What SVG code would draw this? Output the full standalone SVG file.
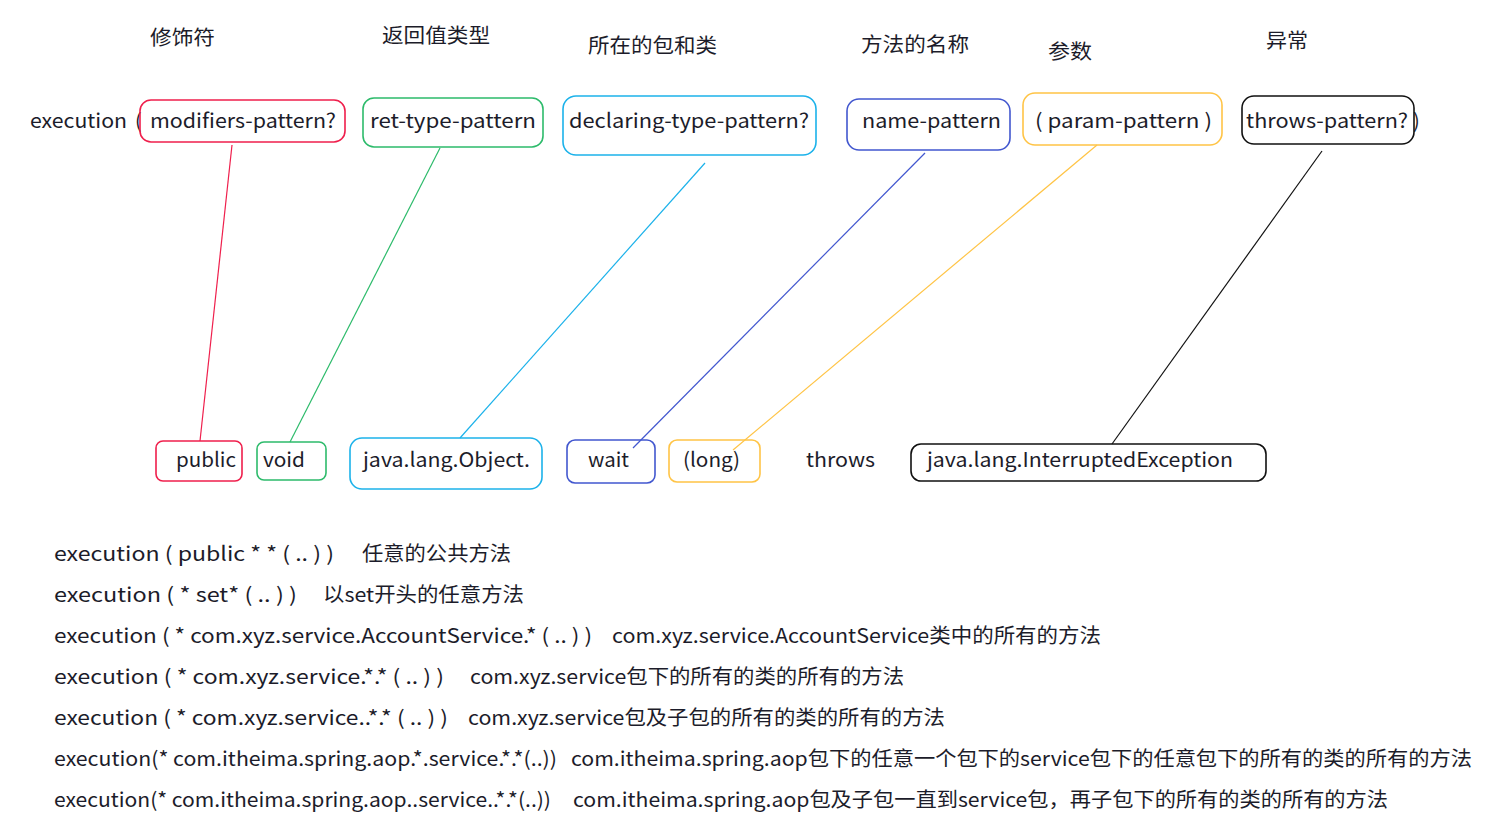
<svg xmlns="http://www.w3.org/2000/svg" width="1489" height="829" viewBox="0 0 1489 829">
<style>
text{font-family:"Noto Sans CJK SC","Noto Sans",sans-serif;font-size:20px;fill:#1c1c2a}
.b{fill:none;stroke-width:1.6}
.red{stroke:#ef1f4c}.grn{stroke:#2dbb6b}.cyn{stroke:#1cb2ea}.blu{stroke:#4257cf}.yel{stroke:#ffc446}.blk{stroke:#111}
.c{fill:none;stroke-width:1.2}
</style>
<rect width="1489" height="829" fill="#fff"/>
<g id="labels">
<text x="150" y="45" textLength="65" lengthAdjust="spacingAndGlyphs">修饰符</text>
<text x="382" y="43" textLength="108" lengthAdjust="spacingAndGlyphs">返回值类型</text>
<text x="588" y="53" textLength="129" lengthAdjust="spacingAndGlyphs">所在的包和类</text>
<text x="861" y="52" textLength="108" lengthAdjust="spacingAndGlyphs">方法的名称</text>
<text x="1048" y="59" textLength="44" lengthAdjust="spacingAndGlyphs">参数</text>
<text x="1266" y="48" textLength="42" lengthAdjust="spacingAndGlyphs">异常</text>
</g>
<g id="exec">
<text x="30" y="128" textLength="97" lengthAdjust="spacingAndGlyphs">execution</text>
<text x="135" y="128">(</text>
<text x="1413" y="128">)</text>
</g>
<g id="modifiers"><rect class="b red" x="140" y="100" width="205" height="42" rx="11"/><text x="150" y="128" textLength="186" lengthAdjust="spacingAndGlyphs">modifiers-pattern?</text></g>
<g id="rettype"><rect class="b grn" x="363" y="98" width="180" height="49" rx="11"/><text x="370" y="128" textLength="166" lengthAdjust="spacingAndGlyphs">ret-type-pattern</text></g>
<g id="declaring"><rect class="b cyn" x="563" y="96" width="253" height="59" rx="13"/><text x="569" y="128" textLength="240" lengthAdjust="spacingAndGlyphs">declaring-type-pattern?</text></g>
<g id="name"><rect class="b blu" x="847" y="99" width="163" height="51" rx="12"/><text x="862" y="128" textLength="139" lengthAdjust="spacingAndGlyphs">name-pattern</text></g>
<g id="param"><rect class="b yel" x="1023" y="93" width="199" height="52" rx="12"/><text x="1035" y="128" textLength="177" lengthAdjust="spacingAndGlyphs">( param-pattern )</text></g>
<g id="throws"><rect class="b blk" x="1242" y="96" width="172" height="48" rx="12"/><text x="1246" y="128" textLength="162" lengthAdjust="spacingAndGlyphs">throws-pattern?</text></g>
<g id="public"><rect class="b red" x="156" y="441" width="86" height="40" rx="7"/><text x="176" y="467" textLength="60" lengthAdjust="spacingAndGlyphs">public</text></g>
<g id="void"><rect class="b grn" x="257" y="442" width="69" height="38" rx="7"/><text x="263" y="467" textLength="42" lengthAdjust="spacingAndGlyphs">void</text></g>
<g id="object"><rect class="b cyn" x="350" y="438" width="192" height="51" rx="12"/><text x="363" y="467" textLength="167" lengthAdjust="spacingAndGlyphs">java.lang.Object.</text></g>
<g id="wait"><rect class="b blu" x="567" y="440" width="88" height="43" rx="8"/><text x="588" y="467" textLength="41" lengthAdjust="spacingAndGlyphs">wait</text></g>
<g id="long"><rect class="b yel" x="669" y="440" width="91" height="42" rx="8"/><text x="683" y="467" textLength="57" lengthAdjust="spacingAndGlyphs">(long)</text></g>
<g id="throwsword"><text x="806" y="467" textLength="69" lengthAdjust="spacingAndGlyphs">throws</text></g>
<g id="exception"><rect class="b blk" x="911" y="444" width="355" height="37" rx="10"/><text x="927" y="467" textLength="306" lengthAdjust="spacingAndGlyphs">java.lang.InterruptedException</text></g>
<g id="connectors">
<line class="c red" x1="232" y1="145" x2="200" y2="441"/>
<line class="c grn" x1="440" y1="148" x2="290" y2="442"/>
<line class="c cyn" x1="705" y1="163" x2="460" y2="438"/>
<line class="c blu" x1="925" y1="153" x2="633" y2="448"/>
<line class="c yel" x1="1097" y1="145" x2="733" y2="450"/>
<line class="c blk" x1="1322" y1="151" x2="1112" y2="444"/>
</g>
<g id="examples">
<text x="54" y="561" textLength="280" lengthAdjust="spacingAndGlyphs">execution ( public * * ( .. ) )</text>
<text x="362" y="561" textLength="149" lengthAdjust="spacingAndGlyphs">任意的公共方法</text>
<text x="54" y="602" textLength="243" lengthAdjust="spacingAndGlyphs">execution ( * set* ( .. ) )</text>
<text x="323" y="602" textLength="201" lengthAdjust="spacingAndGlyphs">以set开头的任意方法</text>
<text x="54" y="643" textLength="538" lengthAdjust="spacingAndGlyphs">execution ( * com.xyz.service.AccountService.* ( .. ) )</text>
<text x="612" y="643" textLength="489" lengthAdjust="spacingAndGlyphs">com.xyz.service.AccountService类中的所有的方法</text>
<text x="54" y="684" textLength="390" lengthAdjust="spacingAndGlyphs">execution ( * com.xyz.service.*.* ( .. ) )</text>
<text x="470" y="684" textLength="434" lengthAdjust="spacingAndGlyphs">com.xyz.service包下的所有的类的所有的方法</text>
<text x="54" y="725" textLength="394" lengthAdjust="spacingAndGlyphs">execution ( * com.xyz.service..*.* ( .. ) )</text>
<text x="468" y="725" textLength="477" lengthAdjust="spacingAndGlyphs">com.xyz.service包及子包的所有的类的所有的方法</text>
<text x="54" y="766" textLength="503" lengthAdjust="spacingAndGlyphs">execution(* com.itheima.spring.aop.*.service.*.*(..))</text>
<text x="571" y="766" textLength="901" lengthAdjust="spacingAndGlyphs">com.itheima.spring.aop包下的任意一个包下的service包下的任意包下的所有的类的所有的方法</text>
<text x="54" y="807" textLength="497" lengthAdjust="spacingAndGlyphs">execution(* com.itheima.spring.aop..service..*.*(..))</text>
<text x="573" y="807" textLength="815" lengthAdjust="spacingAndGlyphs">com.itheima.spring.aop包及子包一直到service包，再子包下的所有的类的所有的方法</text>
</g>
</svg>
